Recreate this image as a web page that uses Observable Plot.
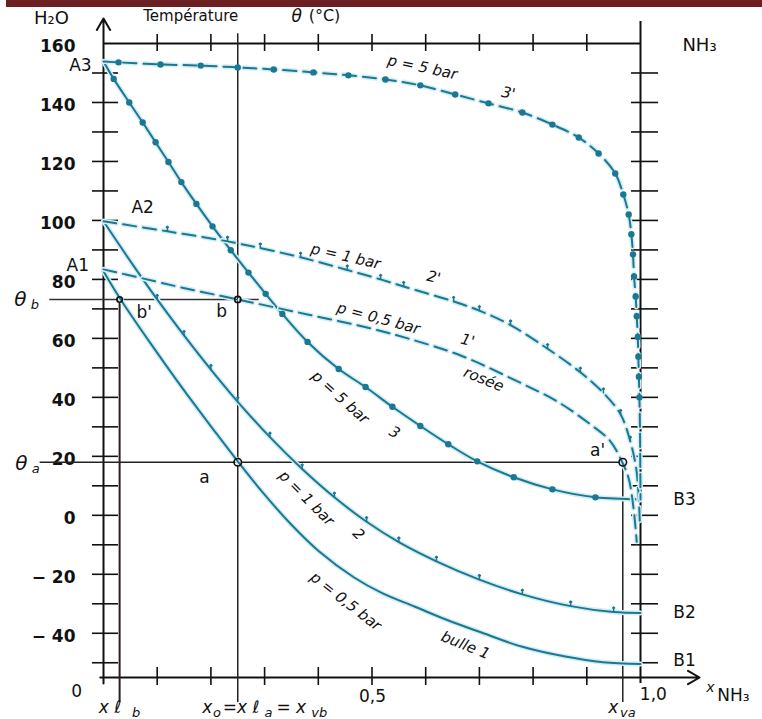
<!DOCTYPE html>
<html><head><meta charset="utf-8">
<script src="https://cdn.jsdelivr.net/npm/d3@7"></script>
<script src="https://cdn.jsdelivr.net/npm/@observablehq/plot@0.6"></script>
<style>
body{margin:0;background:#fff;}
#bar{height:7px;background:#6b1f22;margin-left:6px;}
#chart svg{display:block;}
</style></head><body>
<div id="bar"></div>
<div id="chart"></div>
<script>
// ---- data: [x NH3 fraction, temperature °C] ----
const bulle05 = [[0,82.8],[0.032,73.2],[0.088,58.2],[0.149,42.6],[0.205,29],[0.25,18.3],[0.3,7],[0.35,-3.2],[0.4,-12],[0.466,-21],[0.52,-26.5],[0.58,-31],[0.64,-35.5],[0.7,-39.5],[0.78,-44.6],[0.86,-47.9],[0.93,-49.8],[1,-50.4]];
const bulle1 = [[0,99.7],[0.05,86.2],[0.1,73.2],[0.15,61],[0.2,49.4],[0.25,38.5],[0.31,26.5],[0.37,15.7],[0.43,6.1],[0.49,-2.2],[0.55,-9.1],[0.62,-15.6],[0.7,-21.8],[0.78,-26.8],[0.87,-30.8],[0.95,-32.8],[1,-33.1]];
const bulle5 = [[0,153.9],[0.019,148],[0.048,140],[0.073,133.2],[0.097,126.5],[0.121,119.8],[0.145,113],[0.173,105.6],[0.203,98],[0.237,89.9],[0.27,82.3],[0.302,75.1],[0.333,68.3],[0.38,58.8],[0.438,49.6],[0.488,43.5],[0.538,36.8],[0.59,30.3],[0.642,24.1],[0.696,18.3],[0.764,12.9],[0.836,8.8],[0.916,6.1],[1,5.4]];
const rosee05 = [[0,83.4],[0.069,80.5],[0.149,77.1],[0.25,73.2],[0.38,68.1],[0.497,63.4],[0.572,59.7],[0.665,54.2],[0.771,45.4],[0.845,38.6],[0.907,30.8],[0.944,25.1],[0.966,18],[0.978,12.5],[0.987,2.4],[0.993,-9]];
const rosee1 = [[0,99.7],[0.119,96.3],[0.231,92.9],[0.292,90.6],[0.367,87.5],[0.454,83.2],[0.516,80],[0.559,77.6],[0.652,72.5],[0.7,69.4],[0.758,64.5],[0.827,56.5],[0.888,48.5],[0.931,41.5],[0.963,34.2],[0.981,25.1],[0.992,15.9],[0.997,5],[0.999,-4]];
const rosee5 = [[0,153.9],[0.028,153.6],[0.106,152.9],[0.181,152.5],[0.25,151.9],[0.317,151.2],[0.391,150.2],[0.456,149.2],[0.525,147.8],[0.59,145.8],[0.655,142.7],[0.717,139.7],[0.78,136.6],[0.836,132.5],[0.885,128.1],[0.922,122.7],[0.953,115.9],[0.968,108.8],[0.978,102],[0.983,95.3],[0.986,88.5],[0.988,81],[0.991,74.2],[0.993,67.5],[0.995,60.5],[0.996,53.8],[0.997,47],[0.998,40],[0.999,30],[1,5.4]];

const X_LB = 0.03, X0 = 0.25, X_VA = 0.967, TH_B = 73.2, TH_A = 18;
const yLabelTicks = [160,140,120,100,80,60,40,20,0,-20,-40];
const yTicks = d3.range(-50, 151, 10);
const xTicks = [0.1,0.2,0.3,0.4,0.5,0.6,0.7,0.8,0.9];
const marked = [{n:"b'",x:X_LB,y:TH_B,r:4},{n:"b",x:X0,y:TH_B,r:5},{n:"a",x:X0,y:TH_A,r:7.5},{n:"a'",x:X_VA,y:TH_A,r:7.5}];

// annotation texts [text, x, θ]
const labels = [["A3",-0.043,152.5],["A2",0.073,104.4],["A1",-0.048,84.7],["b'",0.076,68.8],["b",0.22,69.2],["a",0.188,12.9],["a'",0.92,22],
  ["B3",1.082,5.4],["B2",1.082,-32.9],["B1",1.082,-49.2],["0",-0.05,-59.7],["0,5",0.501,-61.4],["1,0",1.024,-60.7]];
const bigLabels = [["H₂O",-0.097,168.5]];
const curveLabels = [["p = 5 bar",0.594,151.9,12],["3'",0.754,143.1,12],["p = 1 bar",0.451,87.8,13],["2'",0.615,80.7,13],
  ["p = 0,5 bar",0.512,66.8,15],["1'",0.678,59.3,15],["rosée",0.708,46.1,22],["p = 5 bar",0.441,40,42],["3",0.542,28.1,30],
  ["p = 1 bar",0.378,5.8,45],["2",0.475,-6.4,45],["p = 0,5 bar",0.451,-29.2,38],["bulle 1",0.674,-44.1,22]];
const italicStart = [["x ℓ",-0.009,-65.3],["x",0.184,-65.3],["=x ℓ",0.222,-65.3],["= x",0.322,-65.3],["x",0.94,-65.3]];
const subStart = [["b",0.053,-67],["o",0.204,-67],["a",0.3,-67],["vb",0.387,-67],["va",0.962,-67]];
const thetaLabels = [["θ",-0.155,73.2],["θ",-0.153,17.6]];
const thetaSubs = [["b",-0.128,71.5],["a",-0.126,15.9]];

const teal = "#1b7893", halo = "#d3edf3";
const X = d => d[0], Y = d => d[1];
const curve = "catmull-rom";

const lineMarks = (data, dash) => [
  Plot.line(data, {x: X, y: Y, curve, stroke: halo, strokeWidth: 5, strokeDasharray: dash}),
  Plot.line(data, {x: X, y: Y, curve, stroke: teal, strokeWidth: 2, strokeDasharray: dash})
];

const chart = Plot.plot({
  width: 762, height: 712,
  marginLeft: 103, marginRight: 122, marginTop: 36, marginBottom: 42,
  x: {domain: [0, 1]},
  y: {domain: [-55, 160]},
  style: {fontFamily: "DejaVu Sans, Liberation Sans, sans-serif", fontSize: "15px", background: "white", overflow: "visible", color: "#111"},
  marks: [
    // axes ticks
    Plot.axisY({ticks: yTicks, anchor: "left", tickSize: 26, dx: 15, tickFormat: () => "", label: null, strokeWidth: 1.6}),
    Plot.axisY({ticks: yLabelTicks, anchor: "left", tickSize: 0, tickPadding: 28, dy: 3, fontSize: 17, fontWeight: "bold", label: null,
      tickFormat: d => d < 0 ? "− " + (-d) : String(d), ariaLabel: "ylabels"}),
    Plot.axisY({ticks: yTicks, anchor: "right", tickSize: 27, dx: -10, tickFormat: () => "", label: null, strokeWidth: 1.6}),
    Plot.axisX({ticks: xTicks, anchor: "top", tickSize: 17, dy: 7, tickFormat: () => "", label: null, strokeWidth: 1.6}),
    Plot.axisX({ticks: xTicks, anchor: "bottom", tickSize: 18, dy: -10, tickFormat: () => "", label: null, strokeWidth: 1.6}),
    // frame
    Plot.ruleY([160], {x1: 0, x2: 1, stroke: "#111", strokeWidth: 2}),
    Plot.ruleX([1], {y1: -57, y2: 167.5, stroke: "#111", strokeWidth: 2}),
    Plot.arrow([0], {x1: 0, x2: 0, y1: -57, y2: 168.5, stroke: "#111", strokeWidth: 2, headLength: 10}),
    Plot.arrow([0], {x1: -0.006, x2: 1.11, y1: -55, y2: -55, stroke: "#111", strokeWidth: 2, headLength: 10}),
    // guide lines
    Plot.ruleX([X0], {y1: -63.5, y2: 163.3, stroke: "#222", strokeWidth: 1.5}),
    Plot.ruleX([X_LB], {y1: -63.5, y2: TH_B, stroke: "#2a1f1f", strokeWidth: 2}),
    Plot.ruleX([X_VA], {y1: -63.5, y2: TH_A, stroke: "#222", strokeWidth: 1.5}),
    Plot.ruleY([TH_B], {x1: -0.1, x2: 0.29, stroke: "#333", strokeWidth: 1.5}),
    Plot.ruleY([TH_A], {x1: -0.118, x2: X_VA, stroke: "#222", strokeWidth: 1.5}),
    // curves
    ...lineMarks(bulle05, null),
    ...lineMarks(bulle1, null),
    ...lineMarks(bulle5, null),
    ...lineMarks(rosee05, "13,7"),
    ...lineMarks(rosee1, "13,7"),
    ...lineMarks(rosee5, "13,7"),
    Plot.dot(bulle5.slice(1, -1), {x: X, y: Y, r: 3.2, fill: teal}),
    Plot.dot(rosee5.slice(1, -2), {x: X, y: Y, r: 3.2, fill: teal}),
    Plot.vector(bulle1.slice(2, -1), {x: X, y: Y, length: 5, rotate: 0, anchor: "start", stroke: teal, strokeWidth: 1.5}),
    Plot.vector(rosee1.slice(1, -3), {x: X, y: Y, length: 5, rotate: 0, anchor: "start", stroke: teal, strokeWidth: 1.5}),
    // state points
    Plot.dot(marked, {x: "x", y: "y", r: "r", stroke: "#111", strokeWidth: 1.6, fill: "none"}),
    // texts
    Plot.text(labels, {x: d => d[1], y: d => d[2], text: d => d[0], fontSize: 17, fill: "#111", ariaLabel: "labels"}),
    Plot.text(bigLabels, {x: d => d[1], y: d => d[2], text: d => d[0], fontSize: 18, fill: "#111", ariaLabel: "labels"}),
    Plot.text(["Température"], {x: 0.074, y: 169.2, text: d => d, textAnchor: "start", fontSize: 15, fill: "#111", ariaLabel: "title"}),
    Plot.text(["θ"], {x: 0.36, y: 169.2, text: d => d, fontSize: 17, fontStyle: "italic", fill: "#111"}),
    Plot.text(["(°C)"], {x: 0.382, y: 169.2, text: d => d, textAnchor: "start", fontSize: 16, fill: "#111", ariaLabel: "title2"}),
    Plot.text(["NH₃"], {x: 1.078, y: 159.3, text: d => d, textAnchor: "start", fontSize: 18, fill: "#111", ariaLabel: "labels"}),
    Plot.text(curveLabels, {x: d => d[1], y: d => d[2], text: d => d[0], rotate: d => d[3], fontSize: 15, fontStyle: "italic", fill: "#111", ariaLabel: "clabels"}),
    Plot.text(italicStart, {x: d => d[1], y: d => d[2], text: d => d[0], textAnchor: "start", fontSize: 17, fontStyle: "italic", fill: "#111", ariaLabel: "blabels"}),
    Plot.text(subStart, {x: d => d[1], y: d => d[2], text: d => d[0], textAnchor: "start", fontSize: 13, fontStyle: "italic", fill: "#111", ariaLabel: "blabels"}),
    Plot.text(thetaLabels, {x: d => d[1], y: d => d[2], text: d => d[0], fontSize: 20, fontStyle: "italic", fill: "#111"}),
    Plot.text(thetaSubs, {x: d => d[1], y: d => d[2], text: d => d[0], fontSize: 13, fontStyle: "italic", fill: "#111"}),
    Plot.text(["x"], {x: 1.13, y: -58.5, text: d => d, fontSize: 14, fontStyle: "italic", fill: "#111"}),
    Plot.text(["NH₃"], {x: 1.143, y: -61.2, text: d => d, textAnchor: "start", fontSize: 17, fill: "#111", ariaLabel: "labels"})
  ]
});
document.getElementById("chart").appendChild(chart);
const s = d3.select(chart);
s.selectAll('g[aria-label="ylabels"] text').attr("letter-spacing", "2.5");
s.selectAll('g[aria-label="labels"] text').attr("letter-spacing", "1.5");
s.selectAll('g[aria-label="title"] text').attr("letter-spacing", "2.8");
s.selectAll('g[aria-label="title2"] text').attr("letter-spacing", "3.5");
s.selectAll('g[aria-label="clabels"] text').attr("letter-spacing", "1.5");
s.selectAll('g[aria-label="blabels"] text').attr("letter-spacing", "1");
</script></body></html>
